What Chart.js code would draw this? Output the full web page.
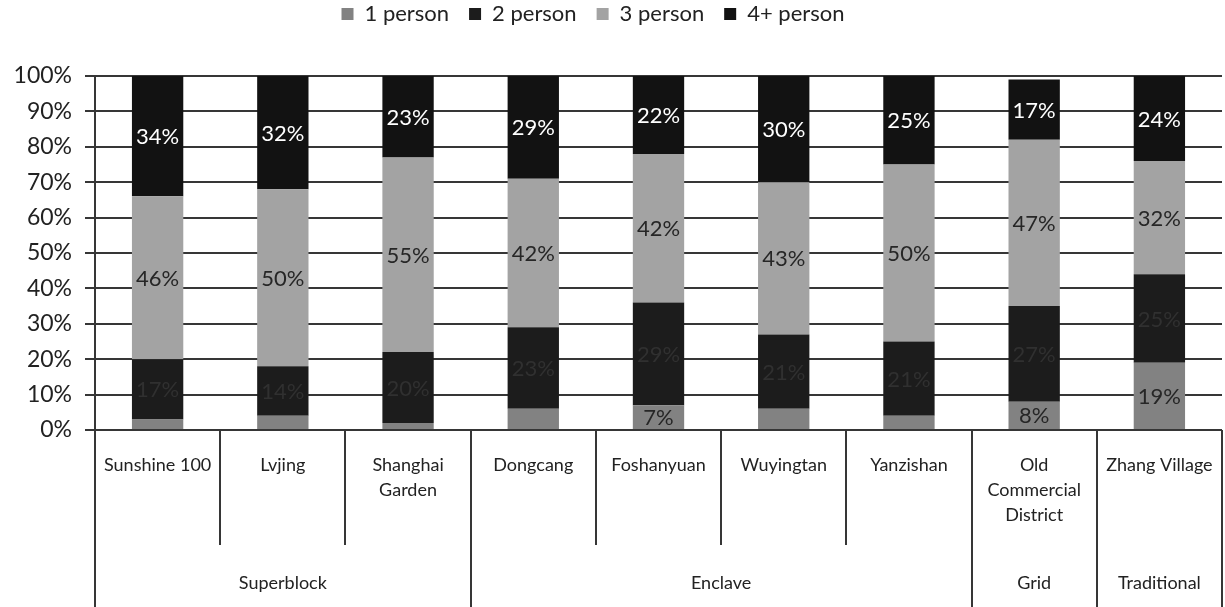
<!DOCTYPE html>
<html>
<head>
<meta charset="utf-8">
<title>Household size by neighbourhood</title>
<script src="https://cdn.jsdelivr.net/npm/chart.js@4.4.1/dist/chart.umd.min.js"></script>
<style>
  html, body { margin: 0; padding: 0; background: #fff; }
  #wrap { width: 1225px; height: 607px; }
</style>
</head>
<body>
<div id="wrap"><canvas id="household-chart" width="1225" height="607"></canvas></div>
<script>
// Neighbourhoods, the lines their names are split on, and the urban form groups
const places = ["Sunshine 100", "Lvjing", "Shanghai Garden", "Dongcang", "Foshanyuan", "Wuyingtan", "Yanzishan", "Old Commercial District", "Zhang Village"];
const placeLines = [["Sunshine 100"], ["Lvjing"], ["Shanghai", "Garden"], ["Dongcang"], ["Foshanyuan"], ["Wuyingtan"], ["Yanzishan"], ["Old", "Commercial", "District"], ["Zhang Village"]];
const groups = ["Superblock", "Enclave", "Grid", "Traditional"];
const groupSizes = [3, 4, 1, 1];

// Share of households (%) by household size
const seriesNames = ["1 person", "2 person", "3 person", "4+ person"];
const onePerson = [3, 4, 2, 6, 7, 6, 4, 8, 19];
const twoPerson = [17, 14, 20, 23, 29, 21, 21, 27, 25];
const threePerson = [46, 50, 55, 42, 42, 43, 50, 47, 32];
const fourPlus = [34, 32, 23, 29, 22, 30, 25, 17, 24];

const yTicks = [0, 10, 20, 30, 40, 50, 60, 70, 80, 90, 100];

const fillColors = ['#828282', '#1c1c1c', '#a3a3a3', '#121212'];
const labelColors = ['#262626', '#303030', '#262626', '#ffffff'];
const lineColor = '#363636';
const textColor = '#222222';
const fontFamily = 'Lato, "Open Sans", sans-serif';

// Extra room between the legend row and the plot; the row itself sits higher and a bit left
const legendSpacing = {
    id: 'legendSpacing',
    afterInit(chart) {
        const legend = chart.legend;
        const fit = legend.fit;
        legend.fit = function () {
            fit.call(this);
            this.height += 24;
        };
    },
    afterLayout(chart) {
        const legend = chart.legend;
        legend.left -= 18;
        legend.right -= 18;
        legend.top -= 17;
        legend.bottom -= 17;
    }
};

// Percent labels in the middle of each segment (tiny 1-person slices stay unlabelled)
const segmentLabels = {
    id: 'segmentLabels',
    afterDatasetsDraw(chart) {
        const ctx = chart.ctx;
        ctx.save();
        ctx.font = '22px ' + fontFamily;
        ctx.textAlign = 'center';
        ctx.textBaseline = 'middle';
        chart.data.datasets.forEach((ds, i) => {
            chart.getDatasetMeta(i).data.forEach((bar, j) => {
                const v = ds.data[j];
                if (v < 7) return;
                ctx.fillStyle = labelColors[i];
                ctx.fillText(v + '%', bar.x, (bar.y + bar.base) / 2 + 1);
            });
        });
        ctx.restore();
    }
};

// Two-level category table under the plot: place names, then group names
const categoryTable = {
    id: 'categoryTable',
    afterDraw(chart) {
        const ctx = chart.ctx;
        const x = chart.scales.x;
        const top = chart.chartArea.bottom;
        const bottom = chart.height;
        const innerBottom = top + 115;

        const groupEdges = [0];
        groupSizes.forEach(n => groupEdges.push(groupEdges[groupEdges.length - 1] + n));

        ctx.save();
        ctx.strokeStyle = lineColor;
        ctx.lineWidth = 2;
        for (let k = 0; k <= places.length; k++) {
            const px = Math.round(x.getPixelForValue(k - 0.5));
            const isGroupEdge = groupEdges.includes(k);
            ctx.beginPath();
            ctx.moveTo(px, top);
            ctx.lineTo(px, isGroupEdge ? bottom : innerBottom);
            ctx.stroke();
        }

        ctx.fillStyle = textColor;
        ctx.font = '18px ' + fontFamily;
        ctx.textAlign = 'center';
        ctx.textBaseline = 'middle';
        placeLines.forEach((lines, j) => {
            const cx = x.getPixelForValue(j);
            lines.forEach((line, n) => ctx.fillText(line, cx, top + 35 + n * 25));
        });

        groups.forEach((g, i) => {
            const left = x.getPixelForValue(groupEdges[i] - 0.5);
            const right = x.getPixelForValue(groupEdges[i + 1] - 0.5);
            ctx.fillText(g, (left + right) / 2, top + 153);
        });
        ctx.restore();
    }
};

function makeSeries(label, data, i) {
    return {
        label: label,
        data: data,
        backgroundColor: fillColors[i],
        borderWidth: 0,
        barPercentage: 0.41,
        categoryPercentage: 1.0
    };
}

const ctx = document.getElementById('household-chart').getContext('2d');
const householdChart = new Chart(ctx, {
    type: 'bar',
    data: {
        labels: places,
        datasets: [
            makeSeries(seriesNames[0], onePerson, 0),
            makeSeries(seriesNames[1], twoPerson, 1),
            makeSeries(seriesNames[2], threePerson, 2),
            makeSeries(seriesNames[3], fourPlus, 3)
        ]
    },
    options: {
        responsive: false,
        maintainAspectRatio: false,
        animation: false,
        layout: {
            padding: { top: 0, left: 0, right: 3, bottom: 0 }
        },
        plugins: {
            legend: {
                position: 'top',
                labels: {
                    font: { family: fontFamily, size: 22 },
                    color: textColor,
                    boxWidth: 12,
                    boxHeight: 12,
                    padding: 20
                }
            },
            tooltip: { enabled: false }
        },
        scales: {
            x: {
                stacked: true,
                afterFit(scale) { scale.height = 177; },
                ticks: { display: false },
                grid: { display: false },
                border: { display: false }
            },
            y: {
                stacked: true,
                min: 0,
                max: 100,
                afterFit(scale) { scale.width = 95; },
                afterBuildTicks(scale) { scale.ticks = yTicks.map(v => ({ value: v })); },
                ticks: {
                    callback: v => v + '%',
                    font: { family: fontFamily, size: 23 },
                    color: textColor,
                    padding: 13
                },
                grid: { color: lineColor, lineWidth: 2, tickLength: 10 },
                border: { color: lineColor, width: 2 }
            }
        }
    },
    plugins: [legendSpacing, segmentLabels, categoryTable]
});
</script>
</body>
</html>
